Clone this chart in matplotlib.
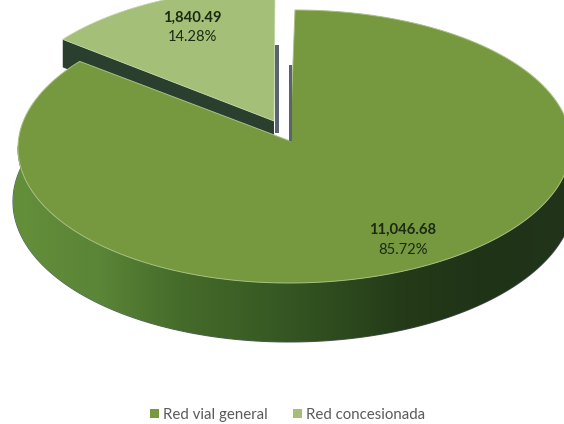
import numpy as np
import matplotlib
matplotlib.use("Agg")
import matplotlib.pyplot as plt
from matplotlib.colors import LinearSegmentedColormap
from matplotlib.patches import Patch, Polygon

categories = ["Red vial general", "Red concesionada"]
values = [11046.68, 1840.49]
colors = ["#76993f", "#a3bf78"]
value_labels = ["11,046.68", "1,840.49"]
pct_labels = ["85.72%", "14.28%"]

plt.rcParams["font.family"] = ["Lato", "DejaVu Sans"]

W, H = 564, 424
fig = plt.figure(figsize=(W / 100, H / 100), dpi=100)
ax = fig.add_axes([0, 0, 1, 1])


def rim(a, cx=292, cy=146.5, rx_left=274, rx_right=279, ry=136.5, skew=3):
    # a in degrees, clockwise from twelve o'clock; the two halves differ a little in width
    a = np.radians(a)
    s = np.sin(a)
    rx = np.where(s < 0, rx_left, rx_right)
    return np.column_stack([cx + rx * s + skew * np.cos(a), cy - ry * np.cos(a)])


total = sum(values)
split = 360 * values[0] / total

# detached slice, its top sits above the canvas
small_tip = np.array([274, 121])
small_arc = rim(np.linspace(split, 360, 60), cx=276, cy=124.5, rx_left=272, skew=-1)
corner = small_arc[0]
depth = np.array([0, 28])
ax.add_patch(Polygon([corner, small_tip, small_tip + depth, corner + depth],
                     fc="#2b3f2e", ec="none", zorder=1))
ax.add_patch(Polygon(np.vstack([small_tip, small_arc]), fc=colors[1], ec="#c3d4a8", lw=0.6, zorder=2))
ax.fill_between([275, 278.5], 45, 133, color="#5a6470", lw=0, zorder=1)

# side wall of the large slice, shaded from left to right
wall_cmap = LinearSegmentedColormap.from_list("wall", [
    (0.0, "#648f3a"), (0.15, "#5b8537"), (0.3, "#456b2a"), (0.5, "#345522"),
    (0.7, "#243a18"), (0.85, "#1f3317"), (1.0, "#22351b")])
wall_pts = np.vstack([rim(np.linspace(60, 300, 160), cy=200, rx_left=279, rx_right=282, ry=142),
                      rim(np.linspace(270, 90, 120))])
wall = Polygon(wall_pts, fc="none", ec="#55606a", lw=0.8, zorder=3)
ax.add_patch(wall)
grad = ax.imshow(np.linspace(0, 1, 256)[None, :], cmap=wall_cmap, extent=[13, 575, 350, 50],
                 aspect="auto", zorder=3)
grad.set_clip_path(wall)

# top face of the large slice
big_tip = np.array([290, 141])
big_arc = rim(np.linspace(0, split, 240))
ax.add_patch(Polygon(np.vstack([big_tip, big_arc]), fc=colors[0], ec="#a9c084", lw=0.7, zorder=4))
ax.fill_between([289, 292], 65, 141, color="#5a6470", lw=0, zorder=5)

label_pos = [(403, 230, 250), (192, 18, 37)]
for val, pct, (x, y1, y2) in zip(value_labels, pct_labels, label_pos):
    ax.text(x, y1, val, ha="center", va="center", fontsize=10.6, color="#1c2a12", fontweight="bold", zorder=6)
    ax.text(x, y2, pct, ha="center", va="center", fontsize=10.6, color="#1c2a12", zorder=6)

handles = [Patch(fc=c, ec="none") for c in colors]
fig.legend(handles, categories, ncol=2, loc="center", bbox_to_anchor=(0.51, 0.0215), frameon=False,
           fontsize=10.8, labelcolor="#5a5a5a", handlelength=0.6, handleheight=0.6,
           handletextpad=0.25, columnspacing=1.7)

ax.set_xlim(0, W)
ax.set_ylim(H, 0)
ax.axis("off")
fig.savefig("out.png", dpi=100)
